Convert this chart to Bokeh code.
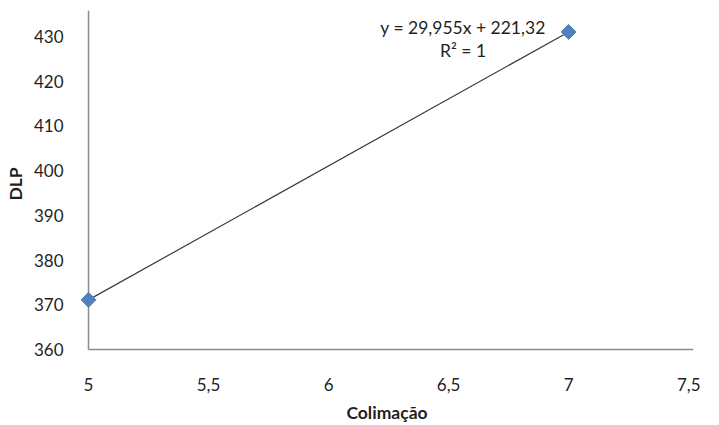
import math
from bokeh.plotting import figure
from bokeh.models import Range1d, FixedTicker, CustomJSTickFormatter, Label
from bokeh.embed import file_html
from bokeh.resources import INLINE

# Measured points
colimacao = [5, 7]
dlp = [371.1, 431.0]

# Linear trend line
slope = 29.955
intercept = 221.32
trend_text = "y = 29,955x + 221,32"
r2_text = "R² = 1"

x_ticks = [5, 5.5, 6, 6.5, 7, 7.5]
y_ticks = [360, 370, 380, 390, 400, 410, 420, 430]

FONT = "Lato"
TEXT = "#1f1f1f"
AXIS = "#8c8c8c"

# Axis extents; the frame gets a little padding on the left and bottom so
# that markers sitting on the axes are drawn whole
X0, X1 = 5.0, 7.52
Y0, Y1 = 360.0, 435.8
px_x = 605 / (X1 - X0)
px_y = 339 / (Y1 - Y0)
pad = 8

p = figure(width=719, height=425, output_backend="svg", toolbar_location=None,
           x_range=Range1d(X0 - pad / px_x, X1),
           y_range=Range1d(Y0 - pad / px_y, Y1),
           min_border_left=88 - pad, min_border_right=26, min_border_top=10,
           min_border_bottom=76 - pad)
p.frame_width = 605 + pad
p.frame_height = 339 + pad
p.outline_line_color = None
p.xgrid.grid_line_color = None
p.ygrid.grid_line_color = None

for ax in (p.xaxis[0], p.yaxis[0]):
    ax.axis_line_color = None
    ax.major_tick_line_color = None
    ax.minor_tick_line_color = None
    ax.major_label_text_font = FONT
    ax.major_label_text_font_size = "17px"
    ax.major_label_text_color = TEXT
    ax.axis_label_text_font = FONT
    ax.axis_label_text_font_size = "17.5px"
    ax.axis_label_text_font_style = "bold"
    ax.axis_label_text_color = TEXT

p.xaxis.ticker = FixedTicker(ticks=x_ticks)
p.yaxis.ticker = FixedTicker(ticks=y_ticks)
p.xaxis.formatter = CustomJSTickFormatter(code="return tick.toString().replace('.', ',');")
p.xaxis.major_label_standoff = 14
p.yaxis.major_label_standoff = 11
p.xaxis.axis_label = "Colimação"
p.yaxis.axis_label = "DLP"
p.xaxis.axis_label_standoff = 8
p.yaxis.axis_label_standoff = 5

# Axis lines at the axis origin
p.segment(x0=[X0, X0], y0=[Y0, Y0], x1=[X0, X1], y1=[Y1, Y0],
          line_color=AXIS, line_width=1.5)

# Trend line across the measured span
tx = [min(colimacao), max(colimacao)]
ty = [slope * v + intercept for v in tx]
p.line(tx, ty, line_color="#3a3a3a", line_width=1.2)

p.scatter(colimacao, dlp, marker="square", size=10.5, angle=math.pi / 4,
          fill_color="#4f81bd", line_color="#4a7ab3")

p.add_layout(Label(x=6.56, y=432.0, text=trend_text, text_align="center",
                   text_baseline="middle", text_font=FONT,
                   text_font_size="17.5px", text_color=TEXT))
p.add_layout(Label(x=6.56, y=426.8, text=r2_text, text_align="center",
                   text_baseline="middle", text_font=FONT,
                   text_font_size="17.5px", text_color=TEXT))

open("out.html", "w").write(file_html(p, INLINE))
